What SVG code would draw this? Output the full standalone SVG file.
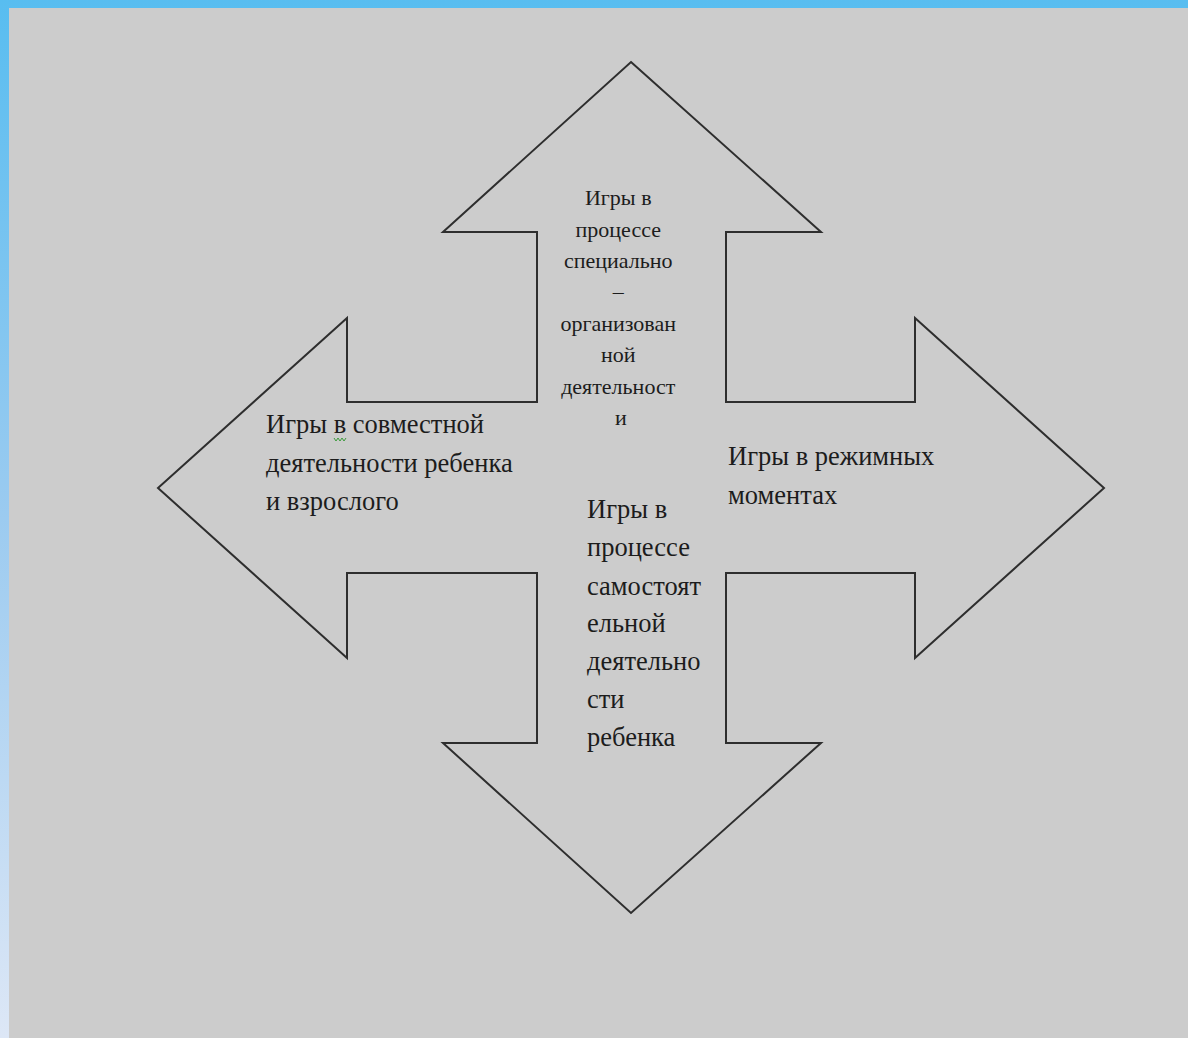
<svg xmlns="http://www.w3.org/2000/svg" width="1188" height="1038" viewBox="0 0 1188 1038">
<defs>
<linearGradient id="frame" x1="0" y1="0" x2="0" y2="1">
<stop offset="0" stop-color="#58bdf0"/>
<stop offset="0.5" stop-color="#9ccbf0"/>
<stop offset="1" stop-color="#dde7f6"/>
</linearGradient>
</defs>
<style>
.shape{fill:#cccccc;stroke:#2e2e2e;stroke-width:2;stroke-linejoin:miter}
.t{font-family:"Liberation Serif","DejaVu Serif",serif;fill:#1c1c1c}
.small{font-size:22px}
.big{font-size:26.5px}
</style>
<rect x="0" y="0" width="1188" height="1038" fill="url(#frame)"/>
<rect x="9" y="8" width="1179" height="1030" fill="#cccccc"/>
<g id="connectors"></g>
<g id="cross">
<polygon class="shape" points="631,62 821,232 726,232 726,402 915,402 915,318 1104,488 915,658 915,573 726,573 726,743 821,743 631,913 443,743 537,743 537,573 347,573 347,658 158,488 347,318 347,402 537,402 537,232 443,232"/>
</g>
<g id="node-top">
<text class="t small" text-anchor="middle">
<tspan x="621" y="205">Игры в</tspan>
<tspan x="621" y="237">процессе</tspan>
<tspan x="621" y="268">специально</tspan>
<tspan x="621" y="299">–</tspan>
<tspan x="621" y="331">организован</tspan>
<tspan x="621" y="362">ной</tspan>
<tspan x="621" y="394">деятельност</tspan>
<tspan x="621" y="425">и</tspan>
</text>
</g>
<g id="node-left">
<text class="t big">
<tspan x="266" y="433">Игры в совместной</tspan>
<tspan x="266" y="472">деятельности ребенка</tspan>
<tspan x="266" y="510">и взрослого</tspan>
</text>
<polyline points="334,438 336,441 338,438 340,441 342,438 344,441 346,438" fill="none" stroke="#3a9a3a" stroke-width="1"/>
</g>
<g id="node-right">
<text class="t big">
<tspan x="728" y="465">Игры в режимных</tspan>
<tspan x="728" y="504">моментах</tspan>
</text>
</g>
<g id="node-bottom">
<text class="t big">
<tspan x="587" y="518">Игры в</tspan>
<tspan x="587" y="556">процессе</tspan>
<tspan x="587" y="595">самостоят</tspan>
<tspan x="587" y="632">ельной</tspan>
<tspan x="587" y="670">деятельно</tspan>
<tspan x="587" y="708">сти</tspan>
<tspan x="587" y="746">ребенка</tspan>
</text>
</g>
</svg>
